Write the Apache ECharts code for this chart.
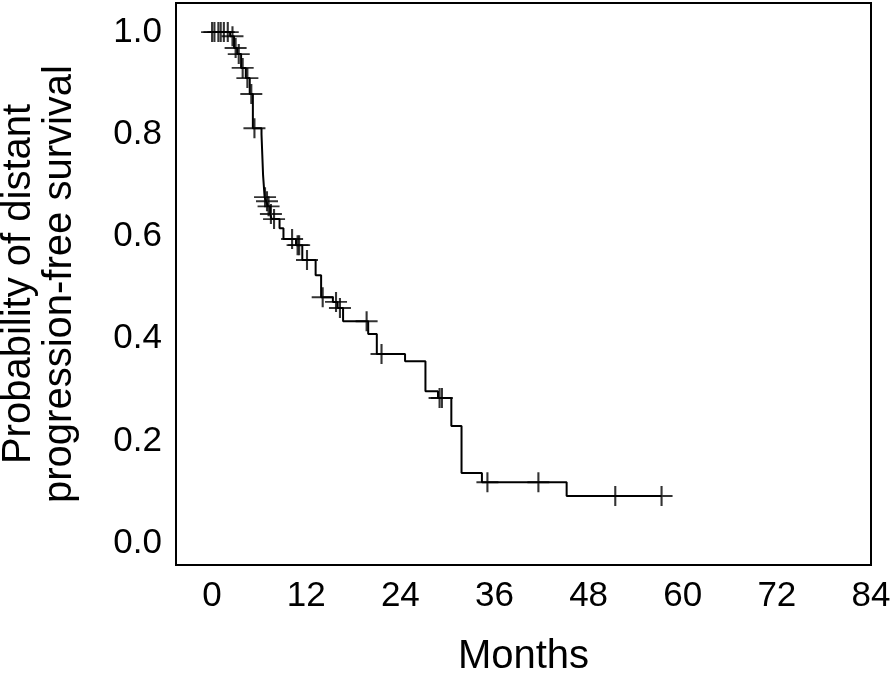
<!DOCTYPE html>
<html>
<head>
<meta charset="utf-8">
<script src="https://cdn.jsdelivr.net/npm/echarts@6/dist/echarts.min.js"></script>
<style>
html,body{margin:0;padding:0;background:#fff;}
#chart{width:894px;height:675px;}
</style>
</head>
<body>
<div id="chart"></div>
<script>
// Kaplan-Meier step curve (months, survival probability)
var stepTimes = [0, 2.3, 2.8, 3.2, 3.7, 4.3, 4.8, 5.2, 6.3, 6.4, 6.5, 6.7, 6.9, 7.1, 7.4, 7.6, 8.6, 9.1, 10.7, 11.5, 13.2, 13.9, 15.4, 16.0, 16.7, 19.9, 21.0, 24.6, 27.2, 28.8, 30.5, 31.8, 34.4, 45.2, 57.3];
var stepSurv  = [1.0, 0.992, 0.969, 0.957, 0.930, 0.910, 0.879, 0.812, 0.80, 0.76, 0.72, 0.677, 0.669, 0.659, 0.644, 0.634, 0.616, 0.595, 0.583, 0.554, 0.524, 0.481, 0.472, 0.460, 0.434, 0.409, 0.370, 0.356, 0.297, 0.284, 0.229, 0.137, 0.119, 0.092, 0.092];
// censored observations
var censorTimes = [0, 0.3, 0.8, 1.1, 1.5, 2.0, 2.6, 3.0, 3.4, 3.9, 4.5, 5.0, 5.4, 6.75, 7.0, 7.2, 7.5, 7.9, 10.2, 10.9, 11.1, 12.1, 14.1, 15.8, 16.3, 19.7, 21.6, 29.0, 29.3, 35.1, 41.6, 51.4, 57.3];
var censorSurv  = [1, 1, 1, 1, 1, 1, 0.992, 0.969, 0.957, 0.930, 0.910, 0.879, 0.812, 0.677, 0.669, 0.659, 0.644, 0.634, 0.595, 0.583, 0.583, 0.554, 0.481, 0.472, 0.460, 0.434, 0.370, 0.284, 0.284, 0.119, 0.119, 0.092, 0.092];
var xTicks = [0, 12, 24, 36, 48, 60, 72, 84];
var yTicks = [0, 0.2, 0.4, 0.6, 0.8, 1.0];

var stepData = stepTimes.map(function(t, i){ return [t, stepSurv[i]]; });
var censorData = censorTimes.map(function(t, i){ return [t, censorSurv[i]]; });

var FONT = '"Liberation Sans", Arial, Helvetica, sans-serif';
var chart = echarts.init(document.getElementById('chart'), null, {renderer: 'canvas'});
chart.setOption({
  animation: false,
  backgroundColor: '#fff',
  grid: {left: 176, top: 3, right: 23, bottom: 110, show: true, borderColor: '#000', borderWidth: 2,
         backgroundColor: 'transparent', containLabel: false, outerBoundsMode: 'none'},
  xAxis: {
    type: 'value', min: -4.6, max: 84,
    axisLine: {show: false}, axisTick: {show: false}, splitLine: {show: false},
    axisLabel: {customValues: xTicks, color: '#000', fontSize: 35, fontFamily: FONT, margin: 14},
    name: 'Months', nameLocation: 'middle', nameGap: 72,
    nameTextStyle: {color: '#000', fontSize: 40, fontFamily: FONT}
  },
  yAxis: {
    type: 'value', min: -0.043, max: 1.057,
    axisLine: {show: false}, axisTick: {show: false}, splitLine: {show: false},
    axisLabel: {customValues: yTicks, color: '#000', fontSize: 35, fontFamily: FONT, margin: 14,
      formatter: function(v){ return v.toFixed(1); }},
    name: 'Probability of distant\nprogression-free survival', nameLocation: 'middle', nameGap: 96,
    nameTextStyle: {color: '#000', fontSize: 40, fontFamily: FONT, lineHeight: 41}
  },
  series: [
    {type: 'line', step: 'end', data: stepData, showSymbol: false, symbol: 'none',
     lineStyle: {color: '#000', width: 2}, z: 2},
    {type: 'scatter', data: censorData, symbol: 'path://M0,10L20,10M10,0L10,20',
     symbolSize: [22, 20], itemStyle: {color: 'transparent', borderColor: '#000', borderWidth: 2}, z: 3}
  ]
});
</script>
</body>
</html>
